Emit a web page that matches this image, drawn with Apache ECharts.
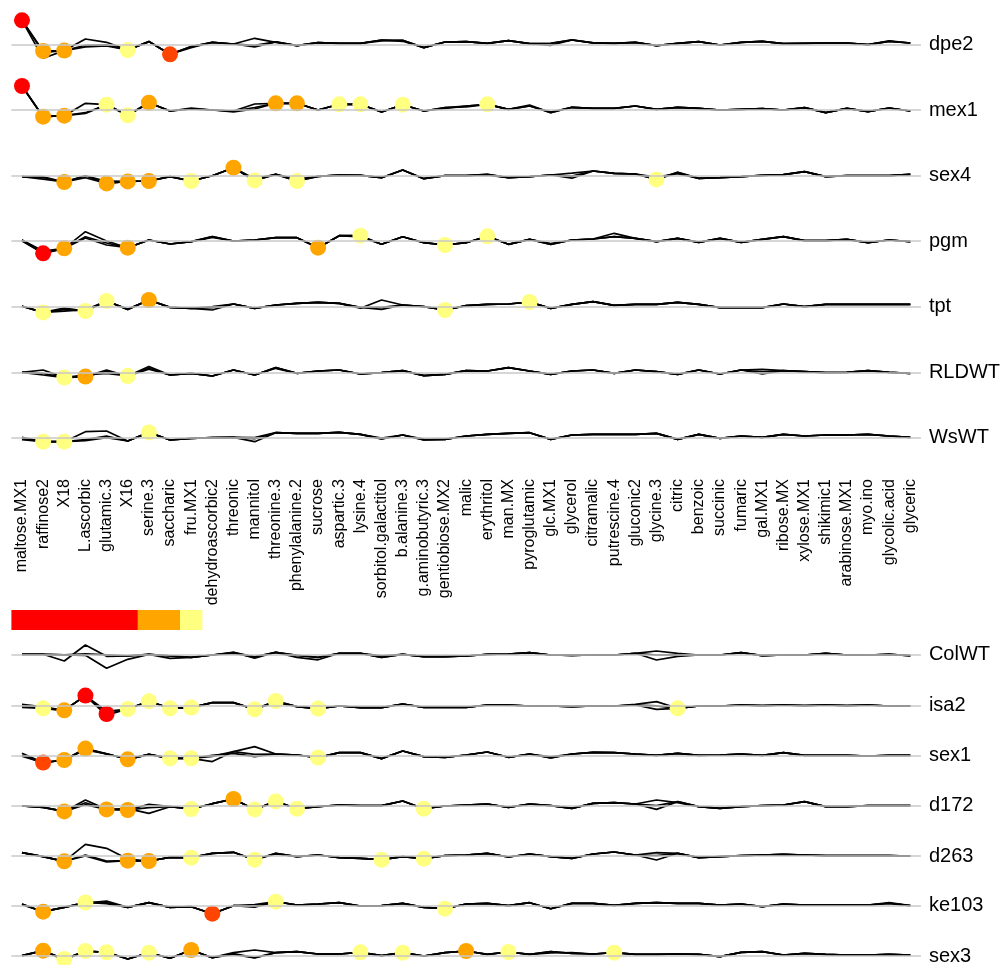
<!DOCTYPE html>
<html><head><meta charset="utf-8">
<script src="https://cdn.jsdelivr.net/npm/echarts@6/dist/echarts.min.js"></script>
<style>html,body{margin:0;padding:0;background:#fff}#c{width:1008px;height:965px}</style>
</head><body><div id="c"></div>
<script>
const categories = ['maltose.MX1','raffinose2','X18','L.ascorbic','glutamic.3','X16','serine.3','saccharic','fru.MX1','dehydroascorbic2','threonic','mannitol','threonine.3','phenylalanine.2','sucrose','aspartic.3','lysine.4','sorbitol.galactitol','b.alanine.3','g.aminobutyric.3','gentiobiose.MX2','malic','erythritol','man.MX','pyroglutamic','glc.MX1','glycerol','citramalic','putrescine.4','gluconic2','glycine.3','citric','benzoic','succinic','fumaric','gal.MX1','ribose.MX','xylose.MX1','shikimic1','arabinose.MX1','myo.ino','glycolic.acid','glyceric'];

// main profile per genotype (log-ratio units), plus replicate deviations [index, value]
const dpe2 = [2.4,-0.67,-0.63,-0.1,-0.05,-0.57,0.27,-1.0,-0.23,0.2, 0.03,-0.1,0.25,-0.13,0.17,0.1,0.1,0.43,0.4,-0.33, 0.23,0.27,0.1,0.37,0.07,0.1,0.43,0.15,0.1,0.2, -0.13,0.1,0.27,-0.07,0.2,0.3,0.07,0.1,0.13,0.13, -0.03,0.3,0.13];
const dpe2Alt1 = [[1,-0.8],[3,0.53],[4,0.2],[11,0.6],[12,0.2],[17,0.35],[25,-0.1],[41,0.35]];
const dpe2Alt2 = [[1,-1.4],[3,-0.25],[4,-0.15],[8,-0.35],[11,-0.25],[18,0.3],[26,0.45]];
const dpe2Dots = [[0,'R'],[1,'O'],[2,'O'],[5,'Y'],[7,'D']];

const mex1 = [2.4,-0.67,-0.57,-0.27,0.53,-0.53,0.73,-0.1,0.1,0, -0.1,0.25,0.67,0.67,0,0.57,0.57,-0.2,0.53,-0.1, 0.23,0.4,0.57,0.07,0.4,-0.27,0.27,0.17,0.17,0.4, 0.07,0.27,0.17,0,0.07,0.13,0,0.23,-0.27,0.17, -0.17,0.2,-0.1];
const mex1Alt1 = [[3,0.67],[8,0.2],[11,0.6],[21,0.3],[24,0.5]];
const mex1Alt2 = [[3,-0.35],[10,-0.2],[11,0.1],[20,0.15],[25,-0.2]];
const mex1Dots = [[0,'R'],[1,'O'],[2,'O'],[4,'Y'],[5,'Y'],[6,'O'],[12,'O'],[13,'O'],[15,'Y'],[16,'Y'],[18,'Y'],[22,'Y']];

const sex4 = [-0.1,-0.2,-0.63,0,-0.77,-0.57,-0.53,-0.1,-0.53,0, 0.8,-0.47,0.13,-0.53,-0.07,0.05,0.03,-0.2,0.57,-0.3, 0,0,0.13,-0.2,-0.1,0.07,-0.05,0.47,0.23,0.17, -0.37,0.33,-0.27,-0.2,-0.1,0.03,0.1,0.4,-0.1,0, 0,0,0.13];
const sex4Alt1 = [[1,-0.35],[3,-0.2],[11,-0.3],[26,0.25],[30,-0.15],[31,0.2]];
const sex4Alt2 = [[1,-0.1],[4,-0.55],[13,-0.35],[22,0.05],[26,-0.25]];
const sex4Dots = [[2,'O'],[4,'O'],[5,'O'],[6,'O'],[8,'Y'],[10,'O'],[11,'Y'],[13,'Y'],[30,'Y']];

const pgm = [0.1,-1.23,-0.73,0.43,-0.2,-0.67,0.1,-0.3,-0.07,0.43, 0,0.1,0.33,0.33,-0.67,0.53,0.53,-0.33,0.43,-0.17, -0.4,-0.17,0.47,-0.33,0.17,-0.33,0.1,0.2,0.43,0.27, -0.07,0.27,-0.13,0.27,-0.13,0.17,0.43,0.03,0.03,0.17, -0.17,0.1,-0.07];
const pgmAlt1 = [[0,0],[3,0.93],[4,0],[9,0.35],[28,0.77]];
const pgmAlt2 = [[1,-1.0],[3,0.3],[4,-0.4],[16,0.4],[25,-0.25]];
const pgmDots = [[1,'R'],[2,'O'],[5,'O'],[14,'O'],[16,'Y'],[20,'Y'],[22,'Y']];

const tpt = [0.05,-0.57,-0.3,-0.43,0.57,-0.27,0.67,-0.07,-0.17,-0.1, 0.27,-0.17,0.17,0.33,0.43,0.33,-0.07,-0.07,0.17,0, -0.33,0.1,0.23,0.27,0.47,-0.17,0.23,0.5,0.13,0.23, 0.23,0.43,0.23,-0.1,-0.1,-0.1,0.27,0,0.23,0.23, 0.23,0.23,0.23];
const tptAlt1 = [[2,-0.15],[9,-0.33],[16,-0.15],[17,0.67]];
const tptAlt2 = [[2,-0.45],[3,-0.3],[9,0],[17,-0.27]];
const tptDots = [[1,'Y'],[3,'Y'],[4,'Y'],[6,'O'],[20,'Y'],[24,'Y']];

const RLDWT = [0,-0.1,-0.53,-0.43,0.1,-0.37,0.4,-0.27,-0.1,-0.37, 0.23,-0.27,0.47,-0.1,0.13,0.23,-0.17,-0.03,0.17,-0.33, -0.2,0.17,0.13,0.47,0.13,-0.2,0.13,0.23,-0.1,0.23, 0.07,-0.2,0.23,-0.17,0.23,0.05,0.17,0.07,-0.03,0, 0.17,0,-0.1];
const RLDWTAlt1 = [[1,0.23],[4,0.23],[6,0.57],[12,0.4],[35,0.3]];
const RLDWTAlt2 = [[1,-0.27],[3,-0.25],[4,-0.1],[6,0.3],[35,-0.17]];
const RLDWTDots = [[2,'Y'],[3,'O'],[5,'Y']];

const WsWT = [-0.1,-0.4,-0.4,-0.2,0.15,-0.33,0.53,-0.23,-0.07,0, 0.03,-0.1,0.5,0.43,0.43,0.53,0.33,-0.13,0.27,-0.23, -0.17,0.17,0.33,0.43,0.5,-0.17,0.27,0.33,0.33,0.33, 0.43,-0.17,0.33,-0.07,0.17,0.03,0.33,0.17,0.27,0.27, 0.33,0.17,0.03];
const WsWTAlt1 = [[0,0.03],[3,0.6],[4,0.67],[11,0],[17,-0.05]];
const WsWTAlt2 = [[0,-0.2],[3,-0.3],[4,0],[11,-0.4],[19,-0.15]];
const WsWTDots = [[1,'Y'],[2,'Y'],[6,'Y']];

const ColWT = [0,0,-0.05,0.05,-0.05,-0.15,0,-0.15,-0.3,-0.07, 0.2,-0.25,0.2,-0.1,-0.3,0.1,0.1,-0.3,0,-0.23, -0.23,-0.17,0,0.03,0.17,-0.07,-0.1,-0.07,-0.07,0.1, -0.07,-0.05,-0.07,-0.07,0.17,-0.13,-0.07,-0.07,0.1,-0.07, -0.07,0,-0.13];
const ColWTAlt1 = [[2,-0.67],[3,0.93],[4,-0.2],[7,-0.4],[11,-0.4],[13,-0.3],[14,-0.55],[30,0.33],[31,0.1]];
const ColWTAlt2 = [[3,-0.1],[4,-1.4],[5,-0.5],[10,0.1],[17,-0.15],[30,-0.57],[31,-0.2]];
const ColWTDots = [];

const isa2 = [-0.07,-0.3,-0.5,0.97,-0.87,-0.37,0.4,-0.3,-0.23,0.27, 0.27,-0.4,0.43,-0.13,-0.33,-0.07,-0.23,-0.23,0.13,-0.2, -0.2,-0.2,0.03,0.03,-0.07,-0.07,-0.13,-0.07,-0.07,0.03, -0.05,-0.3,-0.07,-0.07,0.03,-0.03,0.03,-0.03,0.03,-0.03, 0.03,-0.07,-0.07];
const isa2Alt1 = [[0,0.1],[1,-0.15],[4,-0.6],[29,0.1],[30,0.37]];
const isa2Alt2 = [[0,-0.2],[4,-1.0],[12,0.3],[30,-0.4]];
const isa2Dots = [[1,'Y'],[2,'O'],[3,'R'],[4,'R'],[5,'Y'],[6,'Y'],[7,'Y'],[8,'Y'],[11,'Y'],[12,'Y'],[14,'Y'],[31,'Y']];

const sex1 = [0.2,-0.73,-0.47,0.67,0.15,-0.4,0.1,-0.3,-0.3,-0.1, 0.37,0.1,0.13,0.03,-0.23,0.27,0.27,-0.33,0.43,-0.13, -0.2,0.03,0.33,-0.2,0.13,-0.27,0.13,0.3,0.27,0.13, 0,0.2,0,0.03,0.13,0,0.27,0,0,0, -0.07,0,0];
const sex1Alt1 = [[0,0],[3,0.55],[9,-0.63],[11,0.87]];
const sex1Alt2 = [[0,-0.1],[9,0],[10,0.2],[11,-0.13],[25,-0.15]];
const sex1Dots = [[1,'D'],[2,'O'],[3,'O'],[5,'O'],[7,'Y'],[8,'Y'],[14,'Y']];

const d172 = [-0.03,-0.17,-0.57,0.1,-0.37,-0.43,0.13,-0.1,-0.33,0.2, 0.67,-0.37,0.43,-0.3,-0.1,0.07,0,0,0.47,-0.3, -0.03,0.07,0.17,-0.17,0.17,0,-0.27,0.23,0.3,0.17, 0,0.4,-0.1,-0.27,-0.1,0,0.07,0.4,-0.1,-0.1, 0,0,0];
const d172Alt1 = [[3,0.57],[6,-0.2],[30,0.57],[31,0.3]];
const d172Alt2 = [[3,0.3],[5,-0.3],[6,-0.77],[30,-0.37]];
const d172Dots = [[2,'O'],[4,'O'],[5,'O'],[8,'Y'],[10,'O'],[11,'Y'],[12,'Y'],[13,'Y'],[19,'Y']];

const d263 = [0.33,-0.07,-0.53,0.1,-0.5,-0.47,-0.5,-0.13,-0.17,0.27, 0.37,-0.37,0.27,-0.07,0.1,-0.17,-0.23,-0.37,-0.07,-0.27, 0.03,0.1,0.27,-0.1,0.2,-0.07,-0.23,0.2,0.4,0.1, 0.03,0.27,-0.17,-0.07,0.03,0.1,0.17,0.1,0.03,0.03, 0.03,0.03,0];
const d263Alt1 = [[3,1.17],[4,0.77],[5,-0.3],[30,0.33]];
const d263Alt2 = [[3,0],[4,-0.6],[12,0.2],[30,-0.4]];
const d263Dots = [[2,'O'],[5,'O'],[6,'O'],[8,'Y'],[11,'Y'],[17,'Y'],[19,'Y']];

const ke103 = [0.17,-0.6,-0.17,0.33,0.3,-0.17,0.3,-0.17,-0.1,-0.8, 0,-0.07,0.4,0.07,0.17,0.3,-0.03,0,0.23,-0.17, -0.3,0.17,0.23,0,0.3,-0.3,0.23,0.23,0.03,0.23, 0.3,0.23,0.23,0.07,0.17,-0.1,0.17,0.07,0.07,0.07, 0.07,0.23,0];
const ke103Alt1 = [[3,0.25],[4,0.47],[11,0.1]];
const ke103Alt2 = [[0,0.1],[4,0.2],[11,-0.15],[41,0.3]];
const ke103Dots = [[1,'O'],[3,'Y'],[9,'D'],[12,'Y'],[20,'Y']];

const sex3 = [0.03,0.53,-0.3,0.5,0.37,-0.3,0.33,-0.23,0.6,-0.17, 0.23,-0.17,0.33,0.43,0.2,0.2,0.37,0.03,0.33,0, 0.33,0.5,0.17,0.4,0.17,0.43,0.27,0.2,0.33,0.17, 0.17,0.2,0.17,-0.07,0.37,0.43,0.1,0.27,0.17,0.1, 0.1,0.17,0.1];
const sex3Alt1 = [[2,-0.4],[10,0.33],[11,0.6]];
const sex3Alt2 = [[10,0.15],[11,-0.2],[25,0.3],[26,0.35]];
const sex3Dots = [[1,'O'],[2,'Y'],[3,'Y'],[4,'Y'],[6,'Y'],[8,'O'],[16,'Y'],[18,'Y'],[21,'O'],[23,'Y'],[28,'Y']];

// colour key bar (one cell per category, from the left)
const colorKey = ['R','R','R','R','R','R','O','O','Y'];

const levelColors = {R:'#FF0000', D:'#FF4500', O:'#FFA500', Y:'#FFFF80'};

const rows = [
  ['dpe2', dpe2, dpe2Alt1, dpe2Alt2, dpe2Dots],
  ['mex1', mex1, mex1Alt1, mex1Alt2, mex1Dots],
  ['sex4', sex4, sex4Alt1, sex4Alt2, sex4Dots],
  ['pgm', pgm, pgmAlt1, pgmAlt2, pgmDots],
  ['tpt', tpt, tptAlt1, tptAlt2, tptDots],
  ['RLDWT', RLDWT, RLDWTAlt1, RLDWTAlt2, RLDWTDots],
  ['WsWT', WsWT, WsWTAlt1, WsWTAlt2, WsWTDots],
  ['ColWT', ColWT, ColWTAlt1, ColWTAlt2, ColWTDots],
  ['isa2', isa2, isa2Alt1, isa2Alt2, isa2Dots],
  ['sex1', sex1, sex1Alt1, sex1Alt2, sex1Dots],
  ['d172', d172, d172Alt1, d172Alt2, d172Dots],
  ['d263', d263, d263Alt1, d263Alt2, d263Dots],
  ['ke103', ke103, ke103Alt1, ke103Alt2, ke103Dots],
  ['sex3', sex3, sex3Alt1, sex3Alt2, sex3Dots]
];

// layout: baseline pixel of each row (10 px per unit, rows extend 30 px above baseline)
const rowBase = [44.3,110,175.7,241,306.7,372.3,437.7, 654.3,705.3,755.3,805.7,856,905.7,956];
const PX_PER_UNIT = 10, CANVAS_H = 965;
const GL = 11.4, GW = 909.5;
const FONT = 'Liberation Sans, Arial, Helvetica, sans-serif';

function withAlt(main, alt){ const a = main.slice(); alt.forEach(p => { a[p[0]] = p[1]; }); return a; }

const grid = [], xAxis = [], yAxis = [], series = [];
rows.forEach((r, k) => {
  const [name, main, a1, a2, dots] = r;
  const below = Math.min(30, CANVAS_H - 1 - rowBase[k]);
  grid.push({left: GL, width: GW, top: rowBase[k] - 30, height: 30 + below});
  xAxis.push({gridIndex: k, type: 'category', data: categories, boundaryGap: true, show: false});
  yAxis.push({gridIndex: k, type: 'value', min: -below / PX_PER_UNIT, max: 3, show: false});
  series.push({
    type: 'line', xAxisIndex: k, yAxisIndex: k, data: [], z: 1, silent: true,
    markLine: {
      silent: true, symbol: 'none', animation: false,
      lineStyle: {color: '#C8C8C8', width: 1.5, type: 'solid'},
      label: {show: true, position: 'end', formatter: name, fontSize: 20, color: '#000', fontFamily: FONT, distance: 8},
      data: [{yAxis: 0}]
    }
  });
  [main, withAlt(main, a1), withAlt(main, a2)].forEach(arr => {
    series.push({
      type: 'line', xAxisIndex: k, yAxisIndex: k, data: arr, z: 2, silent: true, clip: false,
      symbol: 'none', lineStyle: {color: '#000', width: 1.7}
    });
  });
  series.push({
    type: 'scatter', xAxisIndex: k, yAxisIndex: k, z: 3, silent: true, clip: false,
    symbolSize: 16,
    data: dots.map(d => ({value: [d[0], main[d[0]]], itemStyle: {color: levelColors[d[1]], opacity: 1}}))
  });
});

// category label axis
const gi = rows.length;
grid.push({left: GL, width: GW, top: 430, height: 40});
xAxis.push({gridIndex: gi, type: 'category', data: categories, boundaryGap: true,
  axisLine: {show: false}, axisTick: {show: false},
  axisLabel: {rotate: 90, interval: 0, fontSize: 16, color: '#000', margin: 9, fontFamily: FONT}});
yAxis.push({gridIndex: gi, type: 'value', show: false});

// colour key
const ci = gi + 1;
grid.push({left: GL, width: GW, top: 610, height: 20});
xAxis.push({gridIndex: ci, type: 'category', data: categories, boundaryGap: true, show: false});
yAxis.push({gridIndex: ci, type: 'value', min: 0, max: 1, show: false});
series.push({
  type: 'bar', xAxisIndex: ci, yAxisIndex: ci, barWidth: 22.4, silent: true,
  data: colorKey.map(c => ({value: 1, itemStyle: {color: levelColors[c]}}))
});

const chart = echarts.init(document.getElementById('c'), null, {renderer: 'canvas'});
chart.setOption({animation: false, backgroundColor: '#fff', grid, xAxis, yAxis, series});
</script>
</body></html>
